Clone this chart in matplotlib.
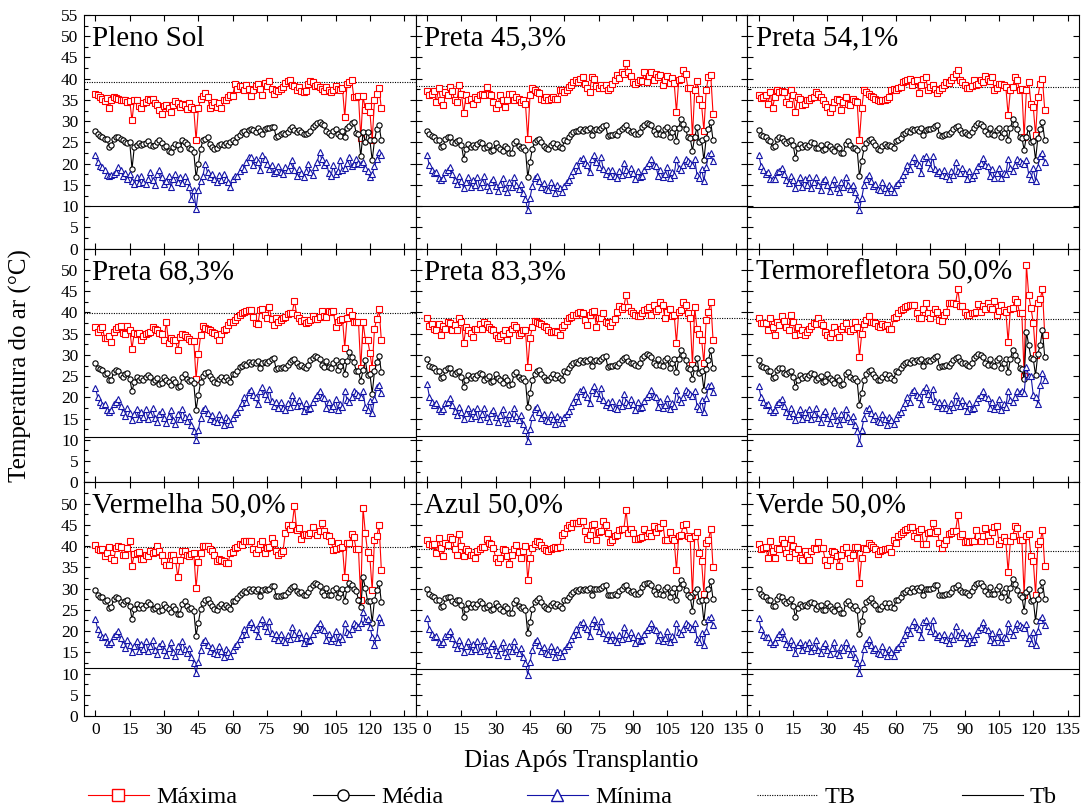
import numpy as np
import matplotlib
matplotlib.use('Agg')
import matplotlib.pyplot as plt
from matplotlib.lines import Line2D

plt.rcParams['font.family'] = ['Liberation Serif', 'DejaVu Serif']

# Panel names (row by row)
panel_names = ['Pleno Sol', 'Preta 45,3%', 'Preta 54,1%',
               'Preta 68,3%', 'Preta 83,3%', 'Termorefletora 50,0%',
               'Vermelha 50,0%', 'Azul 50,0%', 'Verde 50,0%']

# Reference lines per panel
tb_upper = [39.2, 38.4, 38.1, 39.8, 38.7, 38.4, 39.9, 39.2, 38.8]
tb_lower = [10.1, 10.1, 9.9, 10.7, 10.8, 11.3, 11.4, 11.0, 11.1]

x_ticks = [0, 15, 30, 45, 60, 75, 90, 105, 120, 135]

# ---------------- Pleno Sol ----------------
max_pleno = [36.5, 36.2, 35.8, 35.2, 34.8, 35.5, 33.2, 35.0, 35.6, 35.4,
             35.3, 35.1, 34.9, 35.0, 34.6, 34.8, 30.2, 35.0, 34.9, 33.6,
             33.2, 34.2, 34.6, 35.2, 35.0, 35.3, 34.2, 33.8, 32.6, 31.8,
             33.5, 33.8, 33.1, 32.2, 33.9, 34.8, 34.2, 33.3, 34.0, 33.7,
             32.9, 34.3, 33.4, 32.9, 25.5, 33.0, 35.2, 36.0, 36.6, 35.8,
             33.2, 33.8, 34.5, 33.4, 34.3, 33.2, 34.9, 35.1, 35.6, 36.2,
             36.0, 38.7, 37.6, 38.2, 38.4, 37.4, 38.6, 37.6, 36.0, 37.4,
             38.2, 38.8, 37.6, 36.1, 39.0, 38.4, 39.5, 37.5, 36.4, 37.3,
             37.0, 37.6, 38.0, 39.0, 39.4, 39.6, 38.6, 38.2, 37.4, 38.0,
             37.2, 36.8, 37.2, 38.8, 39.4, 39.3, 38.2, 38.6, 38.0, 37.5,
             37.2, 38.0, 37.4, 36.9, 37.3, 38.2, 37.6, 37.3, 37.8, 31.0,
             38.8, 39.2, 39.6, 35.6, 35.8, 35.9, 26.0, 36.0, 32.6, 33.5,
             32.2, 25.5, 34.9, 36.3, 37.7, 33.0]
med_pleno = [27.8, 27.0, 26.6, 26.3, 25.9, 25.8, 23.9, 24.3, 25.9, 26.2,
             26.3, 25.8, 25.5, 25.2, 24.9, 25.0, 18.8, 23.9, 24.5, 24.8,
             24.3, 24.6, 24.9, 25.4, 24.4, 24.2, 24.5, 25.0, 25.5, 24.8,
             23.9, 24.2, 23.0, 22.8, 24.0, 24.7, 24.3, 23.4, 25.5, 25.0,
             24.6, 23.8, 23.4, 22.7, 16.8, 20.0, 23.5, 25.5, 25.9, 26.3,
             24.7, 24.0, 23.5, 23.6, 24.5, 24.7, 24.3, 24.8, 24.4, 25.0,
             25.5, 25.2, 26.2, 26.8, 27.4, 27.6, 27.0, 28.0, 28.2, 28.0,
             27.5, 28.3, 27.8, 27.0, 28.2, 28.4, 28.5, 28.6, 28.7, 26.3,
             26.5, 27.0, 27.2, 27.0, 27.4, 28.1, 28.6, 28.0, 27.5, 27.9,
             27.4, 27.0, 27.0, 27.3, 27.8, 28.6, 29.2, 29.6, 29.8, 29.4,
             29.0, 27.6, 27.2, 26.8, 27.8, 28.2, 27.0, 26.6, 27.6, 26.4,
             28.3, 28.8, 29.5, 29.8, 27.2, 27.0, 21.7, 27.4, 25.0, 27.5,
             25.5, 20.8, 25.5, 28.2, 29.0, 25.5]
min_pleno = [22.0, 20.4, 19.5, 19.2, 18.6, 17.4, 17.2, 17.3, 17.5, 18.0,
             19.2, 18.4, 17.2, 17.8, 16.5, 17.6, 16.0, 15.2, 16.8, 15.5,
             17.0, 15.8, 15.2, 16.5, 18.0, 16.2, 15.0, 17.5, 18.4, 16.8,
             15.2, 16.0, 17.2, 14.5, 16.4, 17.6, 15.8, 16.8, 15.4, 17.2,
             16.0, 14.4, 11.7, 13.7, 9.4, 13.7, 16.0, 17.2, 19.9, 18.0,
             16.8, 17.5, 16.4, 15.6, 17.4, 16.2, 17.6, 16.5, 15.8, 14.5,
             16.4, 17.2, 17.0, 18.2, 19.2, 18.8, 20.5, 21.5, 21.6, 19.6,
             21.2, 20.4, 18.5, 22.0, 21.2, 20.0, 18.8, 19.8, 17.8, 18.2,
             19.4, 18.0, 17.5, 19.2, 18.4, 19.6, 20.8, 18.6, 17.2, 18.8,
             17.8, 16.8, 18.2, 19.9, 18.0, 17.4, 19.2, 20.5, 22.7, 21.0,
             19.6, 20.4, 17.8, 17.2, 19.6, 17.5, 18.2, 20.8, 18.6, 19.0,
             20.2, 21.6, 19.4, 20.0, 21.0, 20.2, 20.0, 20.5, 19.0, 18.2,
             16.8, 17.5, 19.4, 21.0, 22.7, 22.0]

# ---------------- Preta 45,3% ----------------
max_p45 = [37.1, 36.1, 36.3, 37.0, 34.5, 37.7, 34.9, 33.7, 36.8, 36.1,
           38.0, 37.2, 34.9, 34.5, 38.5, 36.5, 31.9, 36.1, 34.9, 35.3,
           34.1, 35.7, 35.3, 36.1, 36.5, 36.1, 38.0, 36.5, 36.1, 34.5,
           33.0, 34.1, 36.1, 34.9, 33.3, 34.9, 36.5, 36.5, 34.9, 35.7,
           35.3, 34.5, 34.9, 34.1, 25.9, 36.1, 37.9, 37.4, 36.9, 36.6,
           35.3, 34.9, 35.7, 34.9, 35.3, 35.7, 35.3, 35.3, 37.3, 37.3,
           36.8, 37.4, 38.0, 38.5, 39.2, 39.6, 39.3, 40.0, 40.3, 38.8,
           37.9, 36.9, 40.3, 40.0, 38.4, 37.7, 38.5, 37.8, 38.5, 37.4,
           37.9, 38.8, 39.6, 40.8, 40.2, 41.6, 41.0, 43.7, 41.6, 40.6,
           39.2, 38.8, 39.2, 39.6, 39.4, 41.6, 39.2, 40.6, 41.6, 39.6,
           41.2, 40.4, 40.8, 38.5, 39.8, 40.6, 39.0, 40.2, 39.0, 32.2,
           39.6, 40.0, 42.1, 41.2, 37.9, 37.9, 26.3, 37.3, 39.5, 35.3,
           33.7, 27.8, 37.3, 40.4, 40.8, 31.8]
med_p45 = [27.8, 26.9, 26.5, 26.3, 25.5, 25.6, 23.9, 24.1, 25.9, 26.3,
           26.2, 25.2, 24.8, 25.4, 25.6, 24.3, 21.2, 23.5, 24.7, 23.9,
           24.5, 23.9, 24.6, 25.2, 24.8, 23.6, 23.9, 24.4, 23.1, 23.3,
           24.8, 24.0, 23.5, 22.9, 24.2, 23.6, 22.4, 22.5, 24.8, 25.4,
           24.2, 23.7, 23.9, 23.2, 16.8, 20.4, 23.5, 25.0, 25.6, 25.9,
           25.0, 24.2, 23.6, 23.4, 24.3, 24.8, 24.0, 24.6, 24.0, 23.6,
           25.5, 25.4, 26.2, 27.0, 27.4, 27.8, 27.6, 28.2, 27.8, 28.2,
           27.9, 28.4, 26.7, 28.0, 28.2, 28.0, 28.4, 28.9, 29.1, 26.6,
           26.7, 26.7, 27.0, 26.8, 27.6, 28.2, 28.7, 29.0, 27.9, 27.4,
           27.6, 27.0, 26.9, 27.5, 28.6, 29.2, 29.6, 29.4, 29.0, 27.6,
           27.0, 28.5, 27.0, 26.8, 28.1, 28.6, 26.3, 27.4, 28.4, 25.4,
           28.4, 30.6, 29.4, 28.2, 26.2, 26.0, 23.1, 26.3, 28.6, 25.1,
           25.5, 20.8, 26.0, 28.2, 29.8, 25.5]
min_p45 = [22.0, 19.6, 18.4, 17.7, 18.0, 16.6, 16.2, 16.6, 18.0, 18.4,
           19.2, 17.5, 16.2, 15.3, 17.2, 16.0, 14.2, 15.8, 16.8, 14.6,
           16.2, 15.0, 16.8, 14.4, 15.6, 17.0, 14.8, 13.9, 15.8, 16.4,
           14.8, 13.6, 15.2, 16.6, 14.2, 13.4, 15.6, 14.6, 16.8, 15.0,
           14.0, 15.2, 13.2, 11.7, 9.0, 12.0, 14.8, 16.6, 17.2, 16.0,
           14.6, 15.4, 14.0, 13.8, 15.6, 14.4, 13.2, 15.0, 14.2, 13.4,
           14.8, 15.6, 16.2, 17.4, 18.2, 19.8, 18.6, 20.8, 21.4, 20.2,
           19.6, 18.0, 21.2, 22.0, 20.4, 19.2, 21.6, 18.8, 17.6, 18.4,
           17.2, 18.6, 17.0, 16.6, 18.2, 17.4, 20.2, 18.4, 17.6, 19.0,
           17.8, 16.4, 18.2, 16.8, 17.2, 18.6, 19.4, 20.2, 21.2, 19.8,
           19.4, 17.2, 18.6, 16.8, 17.6, 19.2, 16.6, 18.0, 17.4, 21.2,
           19.0, 18.4, 19.6, 21.2, 20.6, 20.2, 19.8, 21.0, 17.4, 16.6,
           18.8, 16.0, 19.2, 22.0, 22.4, 20.6]

# ---------------- Preta 54,1% ----------------
max_p54 = [36.2, 35.5, 35.7, 36.1, 34.0, 36.9, 33.0, 35.7, 37.3, 36.9,
           37.0, 36.9, 34.5, 34.1, 37.3, 36.1, 32.2, 35.7, 35.3, 33.7,
           34.1, 34.9, 34.9, 35.5, 35.7, 36.9, 36.3, 35.7, 34.9, 34.0,
           33.3, 32.2, 33.0, 34.5, 35.2, 34.9, 32.6, 34.5, 35.7, 34.1,
           33.7, 35.3, 34.8, 34.5, 25.6, 33.0, 37.3, 36.9, 36.5, 36.0,
           35.7, 35.2, 34.9, 34.7, 34.9, 35.0, 35.3, 35.7, 37.3, 37.5,
           37.4, 37.8, 38.0, 39.2, 39.4, 39.6, 40.0, 38.5, 39.4, 39.6,
           36.7, 38.5, 40.0, 40.3, 37.3, 38.0, 38.5, 37.5, 36.6, 37.3,
           37.7, 38.5, 39.2, 39.0, 39.6, 40.3, 41.0, 42.0, 39.6, 39.2,
           38.5, 37.8, 37.7, 38.2, 39.6, 38.5, 38.8, 39.6, 39.2, 40.6,
           40.0, 39.4, 40.4, 37.3, 37.7, 38.7, 38.8, 38.5, 38.0, 31.5,
           37.3, 38.0, 40.4, 39.6, 37.3, 37.5, 26.3, 37.3, 39.2, 34.1,
           33.3, 26.7, 35.7, 38.8, 40.0, 32.7]
med_p54 = [27.9, 26.8, 26.5, 26.2, 25.6, 25.4, 24.0, 24.2, 25.8, 26.3,
           26.0, 25.3, 24.9, 25.3, 25.5, 24.4, 21.4, 23.6, 24.6, 24.0,
           24.4, 24.0, 24.5, 25.1, 24.9, 23.7, 23.8, 24.3, 23.2, 23.4,
           24.7, 24.1, 23.4, 23.0, 24.1, 23.7, 22.5, 22.6, 24.7, 25.3,
           24.3, 23.6, 23.8, 23.3, 17.0, 20.6, 23.6, 24.9, 25.5, 25.8,
           25.1, 24.3, 23.5, 23.3, 24.2, 24.7, 24.1, 24.5, 24.1, 23.7,
           25.4, 25.5, 26.1, 26.9, 27.3, 27.7, 27.5, 28.1, 27.9, 28.1,
           27.8, 28.3, 26.8, 27.9, 28.1, 28.1, 28.3, 28.8, 29.2, 26.7,
           26.6, 26.8, 26.9, 26.9, 27.5, 28.1, 28.6, 28.9, 28.0, 27.3,
           27.5, 27.1, 26.8, 27.4, 28.5, 29.1, 29.5, 29.3, 28.9, 27.7,
           27.1, 28.4, 27.1, 26.7, 28.0, 28.5, 26.4, 27.3, 28.3, 25.5,
           28.3, 30.5, 29.3, 28.1, 26.3, 26.1, 23.3, 26.4, 28.5, 25.2,
           25.4, 20.9, 26.1, 28.1, 29.7, 25.6]
min_p54 = [22.1, 19.5, 18.5, 17.6, 18.1, 16.5, 16.3, 16.5, 18.1, 18.3,
           19.1, 17.6, 16.1, 15.4, 17.1, 16.1, 14.3, 15.7, 16.9, 14.5,
           16.3, 14.9, 16.9, 14.3, 15.7, 16.9, 14.9, 13.8, 15.9, 16.3,
           14.9, 13.5, 15.3, 16.5, 14.3, 13.3, 15.7, 14.5, 16.9, 14.9,
           14.1, 15.1, 13.3, 11.6, 9.1, 11.9, 14.9, 16.5, 17.3, 15.9,
           14.7, 15.3, 14.1, 13.7, 15.7, 14.3, 13.3, 14.9, 14.3, 13.3,
           14.9, 15.5, 16.3, 17.3, 18.3, 19.7, 18.7, 20.7, 21.5, 20.1,
           19.7, 17.9, 21.3, 21.9, 20.5, 19.1, 21.7, 18.7, 17.7, 18.3,
           17.3, 18.5, 17.1, 16.5, 18.3, 17.3, 20.3, 18.3, 17.7, 18.9,
           17.9, 16.3, 18.3, 16.7, 17.3, 18.5, 19.5, 20.1, 21.3, 19.7,
           19.5, 17.1, 18.7, 16.7, 17.7, 19.1, 16.7, 17.9, 17.5, 21.1,
           19.1, 18.3, 19.7, 21.1, 20.7, 20.1, 19.9, 20.9, 17.5, 16.5,
           18.9, 15.9, 19.3, 21.9, 22.5, 20.5]

# ---------------- Preta 68,3% ----------------
max_p68 = [36.5, 35.4, 36.0, 36.6, 34.0, 33.9, 34.4, 33.1, 35.5, 36.0,
           36.6, 36.8, 35.2, 34.9, 36.8, 35.8, 31.5, 35.2, 35.0, 35.2,
           33.5, 34.4, 35.0, 35.1, 35.4, 36.5, 36.2, 35.8, 35.2, 34.8,
           33.5, 37.8, 32.8, 33.9, 33.5, 33.6, 31.1, 34.1, 34.9, 34.6,
           34.3, 33.8, 33.3, 33.3, 24.4, 30.2, 34.6, 36.8, 36.3, 36.0,
           35.8, 35.5, 35.1, 34.6, 33.6, 35.0, 35.8, 36.0, 37.0, 37.8,
           37.8, 38.2, 39.0, 39.4, 39.8, 40.1, 40.4, 40.5, 40.5, 39.0,
           37.4, 37.2, 40.5, 40.7, 39.5, 38.6, 41.3, 38.5, 37.0, 38.6,
           37.8, 38.2, 38.8, 39.0, 39.6, 39.8, 39.8, 42.7, 39.5, 38.8,
           38.0, 38.2, 37.4, 37.8, 38.2, 39.2, 38.4, 38.5, 39.0, 40.4,
           39.2, 39.0, 40.4, 40.2, 40.4, 36.6, 37.8, 38.2, 38.5, 31.7,
           38.6, 40.4, 39.5, 37.8, 37.8, 37.8, 26.8, 37.8, 33.5, 33.5,
           30.5, 26.8, 36.2, 38.5, 40.7, 33.5]
med_p68 = [28.0, 27.0, 26.6, 26.4, 25.6, 25.7, 24.0, 24.2, 26.0, 26.4,
           26.3, 25.3, 24.9, 25.5, 25.7, 24.4, 21.5, 23.6, 24.8, 24.0,
           24.6, 24.0, 24.7, 25.3, 24.9, 23.7, 24.0, 24.5, 23.2, 23.4,
           24.9, 24.1, 23.6, 23.0, 24.3, 23.7, 22.5, 22.6, 24.9, 25.5,
           24.3, 23.8, 24.0, 23.3, 17.1, 20.5, 23.6, 25.1, 25.7, 26.0,
           25.1, 24.3, 23.7, 23.5, 24.4, 24.9, 24.1, 24.7, 24.1, 23.7,
           25.6, 25.5, 26.3, 27.1, 27.5, 27.9, 27.7, 28.3, 27.9, 28.3,
           28.0, 28.5, 26.8, 28.1, 28.3, 28.1, 28.5, 29.0, 29.2, 26.7,
           26.8, 26.8, 27.1, 26.9, 27.7, 28.3, 28.8, 29.1, 28.0, 27.5,
           27.7, 27.1, 27.0, 27.6, 28.7, 29.3, 29.7, 29.5, 29.1, 27.7,
           27.1, 28.6, 27.1, 26.9, 28.2, 28.7, 26.4, 27.5, 28.5, 25.5,
           28.5, 30.7, 29.5, 28.3, 26.3, 26.1, 23.9, 26.4, 28.7, 25.2,
           25.6, 20.9, 26.1, 28.3, 29.7, 26.0]
min_p68 = [22.3, 20.0, 18.8, 18.1, 18.4, 17.0, 16.6, 17.0, 18.4, 18.8,
           19.6, 17.9, 16.6, 15.7, 17.6, 16.4, 14.6, 16.2, 17.2, 15.0,
           16.6, 15.4, 17.2, 14.8, 16.0, 17.4, 15.2, 14.3, 16.2, 16.8,
           15.2, 14.0, 15.6, 17.0, 14.6, 13.8, 16.0, 15.0, 17.2, 15.4,
           14.4, 15.6, 13.6, 12.1, 9.9, 12.4, 15.2, 17.0, 17.6, 16.4,
           15.0, 15.8, 14.4, 14.2, 16.0, 14.8, 13.6, 15.4, 14.6, 13.8,
           15.2, 16.0, 16.6, 17.8, 18.6, 20.2, 19.0, 21.2, 21.8, 20.6,
           20.0, 18.4, 21.6, 22.4, 20.8, 19.6, 22.0, 19.2, 18.0, 18.8,
           17.6, 19.0, 17.4, 17.0, 18.6, 17.8, 20.6, 18.8, 18.0, 19.4,
           18.2, 16.8, 18.6, 17.2, 17.6, 19.0, 19.8, 20.6, 21.6, 20.2,
           19.8, 17.6, 19.0, 17.2, 18.0, 19.6, 17.0, 18.4, 17.8, 21.6,
           19.4, 18.8, 20.0, 21.6, 21.0, 20.6, 20.2, 21.4, 17.8, 17.0,
           19.2, 16.4, 19.6, 22.4, 22.8, 21.0]

# ---------------- Preta 83,3% ----------------
max_p83 = [38.6, 36.8, 37.3, 36.2, 35.8, 37.2, 34.7, 36.8, 36.2, 37.8,
           37.4, 35.8, 37.0, 35.9, 38.6, 37.8, 32.7, 36.5, 35.8, 35.2,
           34.1, 36.2, 36.0, 37.2, 36.2, 37.8, 37.2, 36.6, 36.2, 35.8,
           34.7, 33.9, 34.4, 34.9, 35.8, 33.5, 35.2, 36.2, 37.0, 36.6,
           34.6, 35.2, 35.8, 35.8, 27.2, 33.9, 36.5, 38.0, 37.8, 37.4,
           37.2, 36.9, 36.6, 35.8, 35.4, 35.4, 35.6, 35.4, 34.7, 36.6,
           37.0, 38.0, 38.8, 39.0, 39.4, 39.4, 39.8, 40.0, 39.8, 38.2,
           37.0, 39.4, 40.2, 40.4, 36.6, 38.6, 38.8, 39.8, 37.8, 37.4,
           36.8, 37.8, 38.5, 40.0, 41.5, 40.8, 41.3, 44.2, 41.3, 40.3,
           39.8, 39.4, 39.1, 39.1, 39.8, 40.5, 40.8, 41.3, 39.4, 41.8,
           40.4, 40.7, 42.5, 41.7, 38.6, 40.2, 40.9, 39.2, 39.5, 32.8,
           40.2, 40.6, 42.5, 41.7, 39.8, 38.6, 27.6, 41.2, 36.0, 34.8,
           33.6, 28.0, 38.2, 40.2, 42.5, 33.6]
med_p83 = [29.1, 27.5, 27.1, 26.9, 26.1, 26.2, 24.5, 24.7, 26.5, 26.9,
           26.8, 25.8, 25.4, 26.0, 26.2, 24.9, 22.5, 24.1, 25.3, 24.5,
           25.1, 24.5, 25.2, 25.8, 25.4, 24.2, 24.5, 25.0, 23.7, 23.9,
           25.4, 24.6, 24.1, 23.5, 24.8, 24.2, 23.0, 23.1, 25.4, 26.0,
           24.8, 24.3, 24.5, 23.8, 17.7, 21.0, 24.1, 25.6, 26.2, 26.5,
           25.6, 24.8, 24.2, 24.0, 24.9, 25.4, 24.6, 25.2, 24.6, 24.2,
           26.1, 26.0, 26.8, 27.6, 28.0, 28.4, 28.2, 28.8, 28.4, 28.8,
           28.5, 29.0, 27.3, 28.6, 28.8, 28.6, 29.0, 29.5, 29.7, 27.2,
           27.3, 27.3, 27.6, 27.4, 28.2, 28.8, 29.3, 29.6, 28.5, 28.0,
           28.2, 27.6, 27.5, 28.1, 29.2, 29.8, 30.2, 30.0, 29.6, 28.2,
           27.6, 29.1, 27.6, 27.4, 28.7, 29.2, 26.9, 28.0, 29.0, 26.0,
           29.0, 31.2, 30.0, 28.8, 26.8, 26.6, 24.4, 26.9, 29.2, 25.7,
           26.1, 21.8, 26.6, 28.8, 31.1, 26.8]
min_p83 = [23.1, 20.2, 19.0, 18.3, 18.6, 17.2, 16.8, 17.2, 18.6, 19.0,
           19.8, 18.1, 16.8, 15.9, 17.8, 16.6, 14.8, 16.4, 17.4, 15.2,
           16.8, 15.6, 17.4, 15.0, 16.2, 17.6, 15.4, 14.5, 16.4, 17.0,
           15.4, 14.2, 15.8, 17.2, 14.8, 14.0, 16.2, 15.2, 17.4, 15.6,
           14.6, 15.8, 13.8, 12.3, 9.7, 12.6, 15.4, 17.2, 17.8, 16.6,
           15.2, 16.0, 14.6, 14.4, 16.2, 15.0, 13.8, 15.6, 14.8, 14.0,
           15.4, 16.2, 16.8, 18.0, 18.8, 20.4, 19.2, 21.4, 22.0, 20.8,
           20.2, 18.6, 21.8, 22.6, 21.0, 19.8, 22.2, 19.4, 18.2, 19.0,
           17.8, 19.2, 17.6, 17.2, 18.8, 18.0, 20.8, 19.0, 18.2, 19.6,
           18.4, 17.0, 18.8, 17.4, 17.8, 19.2, 20.0, 20.8, 21.8, 20.4,
           20.0, 17.8, 19.2, 17.4, 18.2, 19.8, 17.2, 18.6, 18.0, 21.8,
           19.6, 19.0, 20.2, 21.8, 21.2, 20.8, 20.4, 21.6, 18.0, 17.2,
           19.4, 16.6, 19.8, 22.6, 23.0, 21.2]

# ---------------- Termorefletora 50,0% ----------------
max_termo = [38.6, 37.4, 37.6, 37.6, 35.8, 38.6, 36.5, 34.7, 37.8, 37.0,
             39.1, 38.0, 36.5, 35.8, 39.4, 37.8, 34.7, 36.6, 35.0, 35.8,
             34.7, 35.4, 36.2, 36.8, 37.4, 37.2, 38.6, 37.6, 37.0, 35.4,
             34.7, 34.1, 35.2, 36.5, 35.4, 34.1, 36.2, 36.8, 37.6, 36.0,
             35.6, 36.0, 37.8, 36.5, 29.5, 35.0, 37.2, 38.2, 39.1, 37.8,
             37.8, 37.6, 36.8, 36.6, 37.2, 36.8, 37.0, 36.2, 36.2, 38.6,
             39.0, 39.8, 40.5, 40.9, 41.2, 41.5, 41.7, 41.7, 41.7, 39.8,
             38.6, 38.6, 40.7, 42.1, 39.9, 38.6, 39.9, 40.9, 40.2, 38.2,
             38.0, 39.4, 40.2, 42.1, 42.3, 42.1, 42.0, 45.4, 41.5, 41.5,
             40.2, 39.4, 39.4, 39.8, 39.9, 40.0, 42.0, 40.2, 41.5, 40.7,
             42.3, 41.3, 40.7, 42.7, 39.4, 40.4, 41.7, 40.6, 40.2, 33.1,
             40.7, 41.0, 43.1, 42.5, 39.8, 39.8, 25.0, 51.2, 44.1, 41.0,
             37.6, 29.9, 42.1, 43.1, 45.4, 34.7]
med_termo = [28.9, 27.5, 27.1, 26.9, 26.1, 26.2, 24.5, 24.7, 26.5, 26.9,
             26.8, 25.8, 25.4, 26.0, 26.2, 24.9, 22.5, 24.1, 25.3, 24.5,
             25.1, 24.5, 25.2, 25.8, 25.4, 24.2, 24.5, 25.0, 23.7, 23.9,
             25.4, 24.6, 24.1, 23.5, 24.8, 24.2, 23.0, 23.1, 25.4, 26.0,
             24.8, 24.3, 24.5, 23.8, 18.1, 21.0, 24.1, 25.6, 26.2, 26.5,
             25.6, 24.8, 24.2, 24.0, 24.9, 25.4, 24.6, 25.2, 24.6, 24.2,
             26.1, 26.0, 26.8, 27.6, 28.0, 28.4, 28.2, 28.8, 28.4, 28.8,
             28.5, 29.0, 27.3, 28.6, 28.8, 28.6, 29.0, 29.5, 29.7, 27.2,
             27.3, 27.3, 27.6, 27.4, 28.2, 28.8, 29.3, 29.6, 28.5, 28.0,
             28.2, 27.6, 27.5, 28.1, 29.2, 29.8, 30.2, 30.0, 29.6, 28.2,
             27.6, 29.1, 27.6, 27.4, 28.7, 29.2, 26.9, 28.0, 29.0, 26.0,
             29.0, 31.2, 30.0, 28.8, 26.8, 26.6, 24.4, 35.4, 32.3, 29.2,
             29.0, 25.2, 30.3, 32.3, 35.8, 29.5]
min_termo = [22.6, 20.0, 18.8, 18.1, 18.4, 17.0, 16.6, 17.0, 18.4, 18.8,
             19.6, 17.9, 16.6, 15.7, 17.6, 16.4, 14.6, 16.2, 17.2, 15.0,
             16.6, 15.4, 17.2, 14.8, 16.0, 17.4, 15.2, 14.3, 16.2, 16.8,
             15.2, 14.0, 15.6, 17.0, 14.6, 13.8, 16.0, 15.0, 17.2, 15.4,
             14.4, 15.6, 13.6, 12.1, 9.3, 12.4, 15.2, 17.0, 17.6, 16.4,
             15.0, 15.8, 14.4, 14.2, 16.0, 14.8, 13.6, 15.4, 14.6, 13.8,
             15.2, 16.0, 16.6, 17.8, 18.6, 20.2, 19.0, 21.2, 21.8, 20.6,
             20.0, 18.4, 21.6, 22.4, 20.8, 19.6, 22.0, 19.2, 18.0, 18.8,
             17.6, 19.0, 17.4, 17.0, 18.6, 17.8, 20.6, 18.8, 18.0, 19.4,
             18.2, 16.8, 18.6, 17.2, 17.6, 19.0, 19.8, 20.6, 21.6, 20.2,
             19.8, 17.6, 19.0, 17.2, 18.0, 19.6, 17.0, 18.4, 17.8, 21.6,
             19.4, 18.8, 20.0, 21.6, 21.0, 21.5, 21.0, 27.2, 25.0, 25.0,
             20.5, 20.2, 18.5, 22.8, 25.8, 24.2]

# ---------------- Vermelha 50,0% ----------------
max_verm = [40.3, 39.2, 39.0, 39.4, 37.6, 38.4, 39.8, 37.2, 36.8, 39.6,
            40.1, 39.8, 38.0, 37.8, 39.5, 41.3, 35.4, 38.2, 38.4, 38.5,
            37.0, 37.0, 38.0, 37.6, 38.8, 38.4, 38.5, 40.1, 38.8, 38.0,
            36.6, 35.6, 35.6, 38.0, 38.0, 36.8, 32.7, 36.8, 38.8, 38.8,
            37.8, 37.6, 38.2, 38.4, 30.1, 36.2, 38.4, 40.0, 40.0, 40.1,
            39.2, 38.8, 38.0, 36.6, 37.0, 36.8, 36.4, 36.0, 36.0, 38.4,
            38.5, 39.5, 39.9, 40.6, 40.3, 41.1, 41.3, 41.3, 41.3, 39.2,
            38.4, 39.2, 40.6, 41.3, 38.4, 39.5, 39.8, 41.9, 40.7, 38.8,
            38.0, 38.4, 38.8, 43.1, 45.0, 44.0, 45.0, 49.4, 43.9, 44.3,
            41.7, 42.7, 42.8, 42.7, 43.1, 44.5, 43.1, 42.7, 43.5, 45.4,
            43.5, 42.5, 42.3, 41.3, 39.0, 39.2, 40.7, 39.5, 39.8, 32.7,
            40.7, 40.7, 42.9, 42.1, 39.2, 39.2, 27.4, 49.0, 43.1, 38.5,
            37.2, 29.6, 41.5, 42.3, 45.0, 34.4]
med_verm = [29.7, 28.5, 28.1, 27.9, 27.1, 27.2, 25.5, 25.7, 27.5, 27.9,
            27.8, 26.8, 26.4, 27.0, 27.2, 25.9, 22.8, 25.1, 26.3, 25.5,
            26.1, 25.5, 26.2, 26.8, 26.4, 25.2, 25.5, 26.0, 24.7, 24.9,
            26.4, 25.6, 25.1, 24.5, 25.8, 25.2, 24.0, 24.1, 26.4, 27.0,
            25.8, 25.3, 25.5, 24.8, 18.9, 22.0, 25.1, 26.6, 27.2, 27.5,
            26.6, 25.8, 25.2, 25.0, 25.9, 26.4, 25.6, 26.2, 25.6, 25.2,
            27.1, 27.0, 27.8, 28.6, 29.0, 29.4, 29.2, 29.8, 29.4, 29.8,
            29.5, 30.0, 28.3, 29.6, 29.8, 29.6, 30.0, 30.5, 30.7, 28.2,
            28.3, 28.3, 28.6, 28.4, 29.2, 29.8, 30.3, 30.6, 29.5, 29.0,
            29.2, 28.6, 28.5, 29.1, 30.2, 30.8, 31.2, 31.0, 30.6, 29.2,
            28.6, 30.1, 28.6, 28.4, 29.7, 30.2, 27.9, 29.0, 30.0, 27.0,
            30.0, 31.2, 30.8, 29.8, 29.5, 27.4, 25.6, 32.7, 30.1, 27.0,
            27.0, 22.0, 27.4, 29.7, 31.4, 26.8]
min_verm = [22.8, 20.4, 19.2, 18.5, 18.8, 17.4, 17.0, 17.4, 18.8, 19.2,
            20.0, 18.3, 17.0, 16.1, 18.0, 16.8, 15.0, 16.6, 17.6, 15.4,
            17.0, 15.8, 17.6, 15.2, 16.4, 17.8, 15.6, 14.7, 16.6, 17.2,
            15.6, 14.4, 16.0, 17.4, 15.0, 14.2, 16.4, 15.4, 17.6, 15.8,
            14.8, 16.0, 14.0, 12.5, 10.1, 12.8, 15.6, 17.4, 18.0, 16.8,
            15.4, 16.2, 14.8, 14.6, 16.4, 15.2, 14.0, 15.8, 15.0, 14.2,
            15.6, 16.4, 17.0, 18.2, 19.0, 20.6, 19.4, 21.6, 22.2, 21.0,
            20.4, 18.8, 22.0, 22.8, 21.2, 20.0, 22.4, 19.6, 18.4, 19.2,
            18.0, 19.4, 17.8, 17.4, 19.0, 18.2, 21.0, 19.2, 18.4, 19.8,
            18.6, 17.2, 19.0, 17.6, 18.0, 19.4, 20.2, 21.0, 22.0, 20.6,
            20.2, 18.0, 19.4, 17.6, 18.4, 20.0, 17.4, 18.8, 18.2, 22.0,
            19.8, 19.2, 20.4, 22.0, 21.4, 21.0, 22.0, 24.4, 22.3, 22.8,
            21.0, 18.7, 16.7, 18.7, 23.4, 22.2]

# ---------------- Azul 50,0% ----------------
max_azul = [41.5, 40.6, 40.3, 40.6, 38.4, 41.9, 39.5, 37.7, 40.7, 40.3,
            42.1, 41.7, 39.2, 38.0, 42.9, 40.0, 37.6, 39.2, 38.8, 38.0,
            37.8, 37.2, 38.8, 39.2, 39.8, 39.8, 41.7, 40.8, 40.4, 39.5,
            37.2, 36.2, 37.2, 39.2, 39.0, 37.6, 35.9, 38.0, 39.2, 40.3,
            38.5, 37.2, 38.8, 40.1, 32.1, 37.2, 39.5, 40.5, 41.3, 40.9,
            40.3, 39.5, 39.0, 38.8, 39.4, 39.6, 39.8, 39.5, 39.8, 42.7,
            43.1, 44.2, 45.0, 44.5, 45.4, 45.5, 45.5, 45.9, 46.0, 43.5,
            41.7, 42.7, 45.0, 45.2, 41.5, 43.2, 43.5, 45.8, 45.0, 43.1,
            41.0, 41.5, 42.3, 42.5, 43.7, 44.1, 44.0, 48.4, 43.1, 44.0,
            43.1, 41.7, 41.7, 41.9, 42.2, 44.0, 42.3, 43.1, 42.3, 44.8,
            43.2, 44.2, 44.6, 45.4, 41.5, 41.5, 43.2, 41.8, 41.5, 34.3,
            42.3, 42.7, 45.0, 45.2, 42.3, 41.9, 28.5, 42.3, 43.2, 38.4,
            36.4, 28.8, 40.7, 41.5, 44.0, 35.0]
med_azul = [29.9, 28.7, 28.3, 28.1, 27.3, 27.4, 25.7, 25.9, 27.7, 28.1,
            28.0, 27.0, 26.6, 27.2, 27.4, 26.1, 23.4, 25.3, 26.5, 25.7,
            26.3, 25.7, 26.4, 27.0, 26.6, 25.4, 25.7, 26.2, 24.9, 25.1,
            26.6, 25.8, 25.3, 24.7, 26.0, 25.4, 24.2, 24.3, 26.6, 27.2,
            26.0, 25.5, 25.7, 25.0, 19.5, 22.2, 25.3, 26.8, 27.4, 27.7,
            26.8, 26.0, 25.4, 25.2, 26.1, 26.6, 25.8, 26.4, 25.8, 25.4,
            27.3, 27.2, 28.0, 28.8, 29.2, 29.6, 29.4, 30.0, 29.6, 30.0,
            29.7, 30.2, 28.5, 29.8, 30.0, 29.8, 30.2, 30.7, 30.9, 28.4,
            28.5, 28.5, 28.8, 28.6, 29.4, 30.0, 30.5, 30.8, 29.7, 29.2,
            29.4, 28.8, 28.7, 29.3, 30.4, 31.0, 31.4, 31.2, 30.8, 29.4,
            28.8, 30.3, 28.8, 28.6, 29.9, 30.4, 28.1, 29.2, 30.2, 27.2,
            30.2, 32.1, 31.0, 29.6, 28.5, 28.0, 24.8, 29.2, 30.0, 27.0,
            27.4, 22.2, 27.4, 29.8, 31.7, 27.5]
min_azul = [23.0, 20.4, 19.2, 18.5, 18.8, 17.4, 17.0, 17.4, 18.8, 19.2,
            20.0, 18.3, 17.0, 16.1, 18.0, 16.8, 15.0, 16.6, 17.6, 15.4,
            17.0, 15.8, 17.6, 15.2, 16.4, 17.8, 15.6, 14.7, 16.6, 17.2,
            15.6, 14.4, 16.0, 17.4, 15.0, 14.2, 16.4, 15.4, 17.6, 15.8,
            14.8, 16.0, 14.0, 12.5, 9.7, 12.8, 15.6, 17.4, 18.0, 16.8,
            15.4, 16.2, 14.8, 14.6, 16.4, 15.2, 14.0, 15.8, 15.0, 14.2,
            15.6, 16.4, 17.0, 18.2, 19.0, 20.6, 19.4, 21.6, 22.2, 21.0,
            20.4, 18.8, 22.0, 22.8, 21.2, 20.0, 22.4, 19.6, 18.4, 19.2,
            18.0, 19.4, 17.8, 17.4, 19.0, 18.2, 21.0, 19.2, 18.4, 19.8,
            18.6, 17.2, 19.0, 17.6, 18.0, 19.4, 20.2, 21.0, 22.0, 20.6,
            20.2, 18.0, 19.4, 17.6, 18.4, 20.0, 17.4, 18.8, 18.2, 22.0,
            19.8, 19.2, 20.4, 22.0, 21.4, 21.0, 20.6, 21.8, 18.2, 17.4,
            19.6, 16.8, 20.0, 22.8, 23.2, 21.4]

# ---------------- Verde 50,0% ----------------
max_verde = [40.6, 39.3, 39.5, 39.8, 37.2, 41.1, 38.8, 37.2, 39.5, 39.2,
             41.7, 40.7, 38.4, 37.4, 41.7, 40.0, 38.4, 39.3, 37.2, 36.8,
             38.8, 38.0, 36.8, 38.8, 39.5, 39.2, 40.9, 39.5, 39.5, 36.8,
             35.6, 36.8, 38.8, 38.5, 37.6, 35.4, 38.0, 39.2, 39.9, 38.4,
             37.2, 38.0, 39.8, 39.8, 31.4, 37.2, 39.5, 39.3, 40.7, 40.3,
             39.9, 39.2, 38.2, 38.8, 39.0, 39.3, 39.3, 39.5, 38.5, 41.4,
             40.7, 42.3, 42.9, 43.2, 43.8, 44.0, 44.5, 44.5, 42.3, 41.9,
             43.5, 44.0, 40.6, 40.6, 43.1, 43.2, 45.4, 43.1, 43.5, 40.7,
             39.6, 40.4, 41.5, 42.9, 43.1, 43.5, 43.5, 47.2, 42.3, 42.9,
             40.9, 41.1, 40.9, 41.1, 41.1, 43.7, 42.3, 41.1, 42.3, 44.3,
             42.5, 41.1, 43.2, 44.6, 44.8, 40.6, 41.5, 42.1, 41.1, 34.0,
             41.1, 42.3, 44.8, 44.2, 41.5, 41.4, 28.5, 42.3, 42.9, 37.6,
             36.6, 28.5, 40.4, 41.1, 43.7, 35.4]
med_verde = [29.9, 28.8, 28.2, 28.0, 27.4, 27.3, 25.8, 25.8, 27.6, 28.2,
             28.1, 27.1, 26.5, 27.1, 27.5, 26.0, 23.4, 25.4, 26.4, 25.8,
             26.2, 25.8, 26.5, 26.9, 26.7, 25.3, 25.8, 26.1, 25.0, 25.0,
             26.5, 25.9, 25.2, 24.8, 26.1, 25.3, 24.3, 24.2, 26.7, 27.1,
             26.1, 25.4, 25.8, 24.9, 19.3, 22.3, 25.2, 26.9, 27.3, 27.8,
             26.7, 26.1, 25.3, 25.3, 26.0, 26.7, 25.7, 26.5, 25.7, 25.5,
             27.2, 27.3, 27.9, 28.9, 29.1, 29.7, 29.3, 30.1, 29.5, 30.1,
             29.6, 30.3, 28.4, 29.9, 29.9, 29.9, 30.1, 30.8, 30.8, 28.5,
             28.4, 28.6, 28.7, 28.7, 29.3, 30.1, 30.4, 30.9, 29.6, 29.3,
             29.3, 28.9, 28.6, 29.4, 30.3, 31.1, 31.3, 31.3, 30.7, 29.5,
             28.7, 30.4, 28.7, 28.7, 29.8, 30.5, 28.0, 29.3, 30.1, 27.3,
             30.1, 32.2, 31.1, 29.7, 28.4, 28.1, 24.8, 29.3, 29.9, 27.1,
             27.3, 22.3, 27.5, 29.7, 31.6, 27.6]
min_verde = [23.0, 20.5, 19.1, 18.6, 18.7, 17.5, 16.9, 17.5, 18.7, 19.3,
             19.9, 18.4, 16.9, 16.2, 17.9, 16.9, 14.9, 16.7, 17.5, 15.5,
             16.9, 15.9, 17.5, 15.3, 16.3, 17.9, 15.5, 14.8, 16.5, 17.3,
             15.5, 14.5, 15.9, 17.5, 14.9, 14.3, 16.3, 15.5, 17.5, 15.9,
             14.7, 16.1, 13.9, 12.6, 10.1, 12.7, 15.7, 17.3, 18.1, 16.7,
             15.5, 16.1, 14.9, 14.5, 16.5, 15.1, 14.1, 15.7, 15.1, 14.1,
             15.7, 16.3, 17.1, 18.1, 19.1, 20.5, 19.5, 21.5, 22.3, 20.9,
             20.5, 18.7, 22.1, 22.7, 21.3, 19.9, 22.5, 19.5, 18.5, 19.1,
             18.1, 19.3, 17.9, 17.3, 19.1, 18.1, 21.1, 19.1, 18.5, 19.7,
             18.7, 17.1, 19.1, 17.5, 18.1, 19.3, 20.3, 20.9, 22.1, 20.5,
             20.3, 17.9, 19.5, 17.5, 18.5, 19.9, 17.5, 18.7, 18.3, 21.9,
             19.9, 19.1, 20.5, 21.9, 21.5, 20.9, 20.7, 21.7, 18.3, 17.3,
             19.7, 16.7, 20.1, 22.7, 23.3, 21.5]

max_series = [max_pleno, max_p45, max_p54, max_p68, max_p83, max_termo,
              max_verm, max_azul, max_verde]
med_series = [med_pleno, med_p45, med_p54, med_p68, med_p83, med_termo,
              med_verm, med_azul, med_verde]
min_series = [min_pleno, min_p45, min_p54, min_p68, min_p83, min_termo,
              min_verm, min_azul, min_verde]

red = '#FF0000'
blue = '#1414A8'
tb_style = (0, (1, 1.2))

fig = plt.figure(figsize=(10.85, 8.10), dpi=100)
axes = fig.subplots(3, 3, gridspec_kw=dict(hspace=0, wspace=0))
fig.subplots_adjust(left=0.0774, right=0.9945, top=0.9815, bottom=0.116)

for i, ax in enumerate(axes.flat):
    row, col = divmod(i, 3)

    ax.axhline(tb_upper[i], color='black', lw=0.8, ls=tb_style, zorder=1)
    ax.axhline(tb_lower[i], color='black', lw=0.8, zorder=1)

    ax.plot(np.arange(len(max_series[i])), max_series[i], color=red, lw=0.8,
            marker='s', ms=3.8, mfc='white', mec=red, mew=0.8, zorder=3)
    ax.plot(np.arange(len(med_series[i])), med_series[i], color='black', lw=0.8,
            marker='o', ms=3.8, mfc='white', mec='black', mew=0.8, zorder=3)
    ax.plot(np.arange(len(min_series[i])), min_series[i], color=blue, lw=0.8,
            marker='^', ms=4.3, mfc='white', mec=blue, mew=0.8, zorder=3)

    ax.set_xlim(-5, 140)
    ax.set_ylim(0, 55)
    ax.set_xticks(x_ticks)
    ax.set_yticks(range(0, 60, 5))
    ax.set_yticks(np.arange(0, 55, 2.5), minor=True)
    ax.tick_params(which='major', direction='in', length=4, width=0.8,
                   top=True, right=True, labelsize=12.5, pad=4)
    ax.tick_params(which='minor', direction='in', length=3, width=0.8,
                   left=True, right=False, top=False, bottom=False)
    for s in ax.spines.values():
        s.set_linewidth(0.8)

    if col == 0:
        labels = [str(v) for v in range(0, 60, 5)]
        if row > 0:
            labels[-1] = ''
        ax.set_yticklabels(labels)
    else:
        ax.set_yticklabels([])
    if row == 2:
        ax.set_xticklabels([str(v) for v in x_ticks])
    else:
        ax.set_xticklabels([])

    ax.text(0.025, 0.955, panel_names[i], transform=ax.transAxes,
            fontsize=21, ha='left', va='top')

fig.text(0.019, (0.9815 + 0.116) / 2, 'Temperatura do ar (°C)', rotation=90,
         ha='center', va='center', fontsize=18)
fig.text(0.536, 1 - 761 / 810, 'Dias Após Transplantio', ha='center',
         va='center', fontsize=18)

# legend entries along the bottom
legend_items = [
    (Line2D([], [], color=red, lw=0.8, marker='s', ms=8, mfc='white', mec=red), 'Máxima', 88),
    (Line2D([], [], color='black', lw=0.8, marker='o', ms=8, mfc='white', mec='black'), 'Média', 313),
    (Line2D([], [], color=blue, lw=0.8, marker='^', ms=9, mfc='white', mec=blue), 'Mínima', 527),
    (Line2D([], [], color='black', lw=0.8, ls=tb_style), 'TB', 757),
    (Line2D([], [], color='black', lw=0.8), 'Tb', 962),
]
for handle, label, xpix in legend_items:
    fig.legend([handle], [label], loc='center left',
               bbox_to_anchor=(xpix / 1085, 1 - 797 / 810), frameon=False,
               fontsize=17.5, handlelength=2.5, handletextpad=0.3,
               borderpad=0, borderaxespad=0, numpoints=1)

fig.savefig('out.png', dpi=100)
